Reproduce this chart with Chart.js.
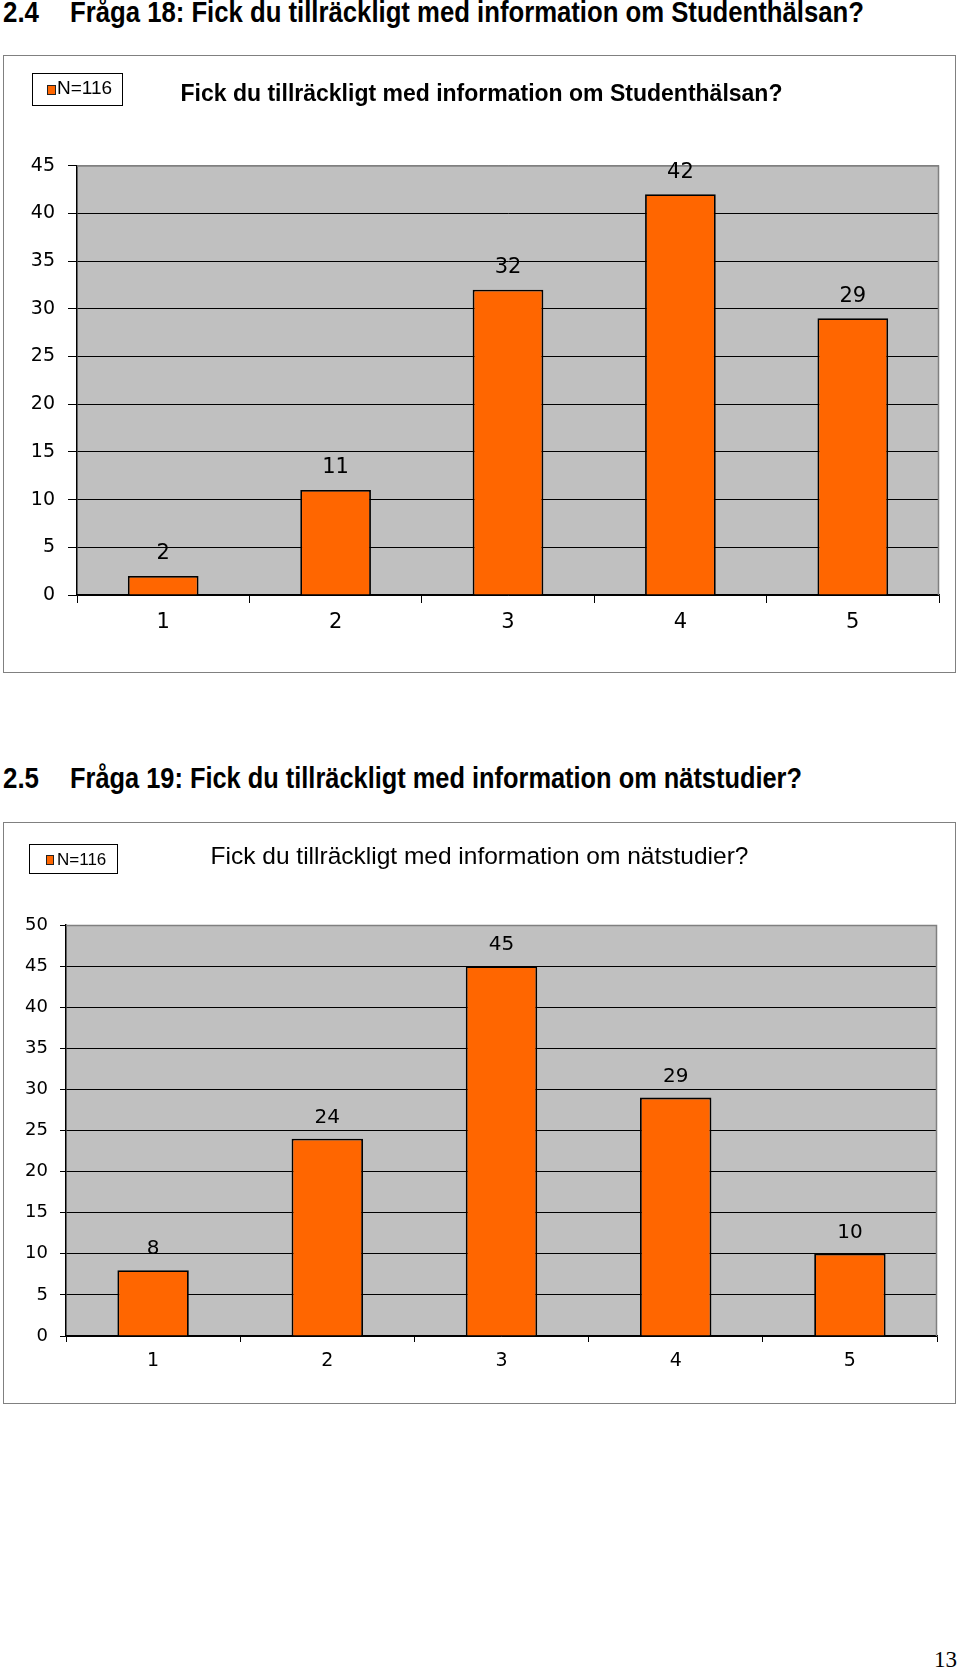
<!DOCTYPE html>
<html lang="sv">
<head>
<meta charset="utf-8">
<title>Fråga 18 och 19</title>
<script src="https://cdn.jsdelivr.net/npm/chart.js@4.4.0/dist/chart.umd.min.js"></script>
<style>
    html, body { margin: 0; padding: 0; background: #fff; }
    body { position: relative; width: 960px; height: 1673px; overflow: hidden; }
    .rubrik {
        position: absolute; left: 3px; width: 950px; height: 34px;
        font-family: "Liberation Sans", sans-serif;
        font-weight: bold; font-size: 29px; line-height: 29px; color: #000; white-space: nowrap;
    }
    .rubrik span { position: absolute; top: 0; transform-origin: 0 0; }
    .ram { position: absolute; left: 3px; width: 953px; box-sizing: border-box; border: 1px solid #808080; background: #fff; }
    .ram canvas { display: block; }
    .sidnr { position: absolute; right: 3px; top: 1648px; font-family: "Liberation Serif", serif; font-size: 23px; line-height: 23px; }
</style>
</head>
<body>

<div class="rubrik" style="top:-2px"><span style="left:0" data-bredd="36">2.4</span><span style="left:67px" data-bredd="794">Fråga 18: Fick du tillräckligt med information om Studenthälsan?</span></div>
<div class="ram" style="top:55px;height:618px"><canvas id="studenthalsan" width="951" height="616"></canvas></div>

<div class="rubrik" style="top:764px"><span style="left:0" data-bredd="36">2.5</span><span style="left:67px" data-bredd="732">Fråga 19: Fick du tillräckligt med information om nätstudier?</span></div>
<div class="ram" style="top:822px;height:582px"><canvas id="natstudier" width="951" height="580"></canvas></div>

<div class="sidnr">13</div>

<script>
// Data som lästs av från diagrammen
const kategorier = ['1', '2', '3', '4', '5'];
const studenthalsanSvar = [2, 11, 32, 42, 29];
const natstudierSvar = [8, 24, 45, 29, 10];
const antalSvar = 'N=116';
const studenthalsanTitel = 'Fick du tillräckligt med information om Studenthälsan?';
const natstudierTitel = 'Fick du tillräckligt med information om nätstudier?';
const studenthalsanMax = 45;
const natstudierMax = 50;

const ORANGE = '#FF6600';
const SILVER = '#C0C0C0';
const KANT = '#808080';

// Rubrikerna är satta i en smal stil, så de trycks ihop till rätt bredd
document.querySelectorAll('.rubrik span').forEach(el => {
    const mal = Number(el.dataset.bredd);
    const w = el.getBoundingClientRect().width;
    if (w > 0) el.style.transform = 'scaleX(' + (mal / w) + ')';
});

// Grå rityta, ram, förklaringsruta och värden ovanför staplarna
const excelStil = {
    id: 'excelStil',
    beforeDraw(chart) {
        const a = chart.chartArea;
        const ctx = chart.ctx;
        ctx.save();
        ctx.fillStyle = SILVER;
        ctx.fillRect(a.left, a.top, a.right - a.left, a.bottom - a.top);
        ctx.restore();
    },
    beforeDatasetsDraw(chart) {
        const a = chart.chartArea;
        const ctx = chart.ctx;
        ctx.save();
        ctx.strokeStyle = KANT;
        ctx.lineWidth = 1.5;
        ctx.beginPath();
        ctx.moveTo(a.left, a.top + 0.5);
        ctx.lineTo(a.right - 0.5, a.top + 0.5);
        ctx.lineTo(a.right - 0.5, a.bottom);
        ctx.stroke();
        ctx.restore();
    },
    afterDatasetsDraw(chart, args, opts) {
        const ctx = chart.ctx;
        const meta = chart.getDatasetMeta(0);
        const values = chart.data.datasets[0].data;
        ctx.save();
        ctx.fillStyle = '#000';
        ctx.font = opts.etikettFont;
        ctx.textAlign = 'center';
        ctx.textBaseline = 'middle';
        meta.data.forEach((bar, i) => {
            ctx.fillText(String(values[i]), bar.x, bar.y - opts.etikettAvstand);
        });
        ctx.restore();
    },
    afterDraw(chart, args, opts) {
        // förklaringsruta uppe till vänster
        const ctx = chart.ctx;
        const ds = chart.data.datasets[0];
        const r = opts.ruta;
        ctx.save();
        ctx.strokeStyle = '#000';
        ctx.lineWidth = 1;
        ctx.strokeRect(r.x + 0.5, r.y + 0.5, r.w, r.h);
        ctx.fillStyle = ds.backgroundColor;
        ctx.fillRect(r.sx, r.sy, r.sw, r.sh);
        ctx.strokeStyle = '#222';
        ctx.strokeRect(r.sx + 0.5, r.sy + 0.5, r.sw - 1, r.sh - 1);
        ctx.fillStyle = '#000';
        ctx.font = r.font;
        ctx.textBaseline = 'middle';
        ctx.fillText(ds.label, r.tx, r.ty);
        ctx.restore();
    }
};

function ritaDiagram(id, varden, titel, yMax, m) {
    const ctx = document.getElementById(id);
    return new Chart(ctx, {
        type: 'bar',
        data: {
            labels: kategorier,
            datasets: [{
                label: antalSvar,
                data: varden,
                backgroundColor: ORANGE,
                borderColor: '#000',
                borderWidth: 1.8,
                categoryPercentage: 1,
                barPercentage: 0.41
            }]
        },
        options: {
            responsive: false,
            animation: false,
            events: [],
            layout: { padding: { left: m.vanster, right: m.hoger, top: 0, bottom: 0 } },
            plugins: {
                legend: { display: false },
                tooltip: { enabled: false },
                title: {
                    display: true,
                    text: titel,
                    color: '#000',
                    font: { family: '"Liberation Sans", sans-serif', size: m.titelStorlek, weight: m.titelVikt, lineHeight: 1.2 },
                    padding: { top: m.titelTopp, bottom: m.titelBotten }
                },
                excelStil: {
                    etikettFont: m.etikettStorlek + 'px "DejaVu Sans"',
                    etikettAvstand: m.etikettAvstand,
                    ruta: m.ruta
                }
            },
            scales: {
                x: {
                    grid: {
                        drawOnChartArea: false,
                        drawTicks: true,
                        tickLength: m.xTick,
                        color: '#000',
                        offset: true
                    },
                    border: { display: true, color: '#000', width: 1.5 },
                    ticks: {
                        color: '#000',
                        padding: m.xPadding,
                        font: { family: '"DejaVu Sans"', size: m.xStorlek }
                    },
                    afterFit(scale) { scale.height = m.xHojd; }
                },
                y: {
                    min: 0,
                    max: yMax,
                    grid: {
                        color: c => (c.tick && c.tick.value === yMax) ? KANT : '#000',
                        tickColor: '#000',
                        lineWidth: 1,
                        tickLength: m.yTick
                    },
                    border: { display: true, color: '#000', width: 1.5 },
                    ticks: {
                        stepSize: 5,
                        color: '#000',
                        padding: m.yPadding,
                        font: { family: '"DejaVu Sans"', size: m.yStorlek }
                    },
                    afterFit(scale) { scale.width = m.yBredd; }
                }
            }
        },
        plugins: [excelStil]
    });
}

ritaDiagram('studenthalsan', studenthalsanSvar, studenthalsanTitel, studenthalsanMax, {
    vanster: 20, hoger: 16, yBredd: 53, xHojd: 77,
    titelStorlek: 23, titelVikt: 'bold', titelTopp: 25, titelBotten: 57,
    yTick: 9, yPadding: 13, yStorlek: 19,
    xTick: 8, xPadding: 7, xStorlek: 21,
    etikettStorlek: 21, etikettAvstand: 22,
    ruta: { x: 28, y: 17, w: 90, h: 32, sx: 43, sy: 29, sw: 9, sh: 10, tx: 53, ty: 33, font: '19px "Liberation Sans"' }
});

ritaDiagram('natstudier', natstudierSvar, natstudierTitel, natstudierMax, {
    vanster: 18, hoger: 18, yBredd: 44, xHojd: 67,
    titelStorlek: 24.5, titelVikt: 'normal', titelTopp: 20, titelBotten: 52.6,
    yTick: 6, yPadding: 12, yStorlek: 18,
    xTick: 6, xPadding: 8, xStorlek: 19,
    etikettStorlek: 20, etikettAvstand: 21,
    ruta: { x: 25, y: 21, w: 88, h: 29, sx: 42, sy: 32, sw: 8, sh: 10, tx: 53, ty: 37, font: '17px "Liberation Sans"' }
});
</script>
</body>
</html>
